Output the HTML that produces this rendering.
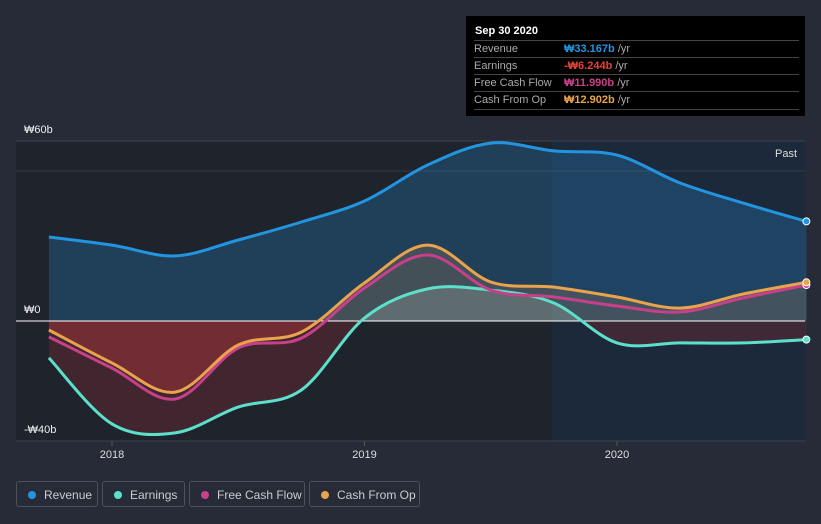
<!DOCTYPE html>
<html><head><meta charset="utf-8"><style>
body{margin:0;background:#262b37;font-family:"Liberation Sans","Noto Sans CJK KR",sans-serif;}
#wrap{position:relative;width:821px;height:524px;overflow:hidden;background:#262b37}
.tip{position:absolute;left:466px;top:16px;width:339px;height:100px;background:#000;color:#fff;font-size:11px}
.tip .h{position:absolute;left:9px;top:9px;font-weight:bold;font-size:11px}
.row{position:absolute;left:8px;width:325px;height:17px;border-top:1px solid #444;color:#aaa;line-height:16px}
.row span.l{position:absolute;left:0}
.row span.v{position:absolute;left:90px;font-weight:bold}
.row span.u{color:#aaa;font-weight:normal}
.leg{position:absolute;top:481px;height:26px;border:1px solid #4a505c;border-radius:3px;color:#ccc;font-size:12px;line-height:26px;box-sizing:border-box}
.leg i{position:absolute;left:11px;top:9px;width:8px;height:8px;border-radius:50%}
.leg span{position:absolute;left:27px}
</style></head><body>
<div id="wrap">
<svg id="svg" width="821" height="524" style="position:absolute;left:0;top:0"></svg>
<div class="tip">
<div class="h">Sep 30 2020</div>
<div class="row" style="top:24px"><span class="l">Revenue</span><span class="v" style="color:#2394e0">₩33.167b <span class="u">/yr</span></span></div>
<div class="row" style="top:41px"><span class="l">Earnings</span><span class="v" style="color:#e8413c">-₩6.244b <span class="u">/yr</span></span></div>
<div class="row" style="top:58px"><span class="l">Free Cash Flow</span><span class="v" style="color:#c8408a">₩11.990b <span class="u">/yr</span></span></div>
<div class="row" style="top:75px;border-bottom:1px solid #444"><span class="l">Cash From Op</span><span class="v" style="color:#e8a34c">₩12.902b <span class="u">/yr</span></span></div>
</div>
<div class="leg" style="left:16px;width:82px"><i style="background:#2394e0"></i><span>Revenue</span></div>
<div class="leg" style="left:102px;width:83px"><i style="background:#5ce0cc"></i><span>Earnings</span></div>
<div class="leg" style="left:189px;width:116px"><i style="background:#c8408a"></i><span>Free Cash Flow</span></div>
<div class="leg" style="left:309px;width:111px"><i style="background:#e8a34c"></i><span>Cash From Op</span></div>
</div>
<script>
const times=[2017.75,2018,2018.25,2018.5,2018.75,2019,2019.25,2019.5,2019.75,2020,2020.25,2020.5,2020.75];
const revenue=[28,25.3,21.7,27,33,40,52,59.3,56.7,55.3,46,39.3,33.2];
const earnings=[-12.3,-34.3,-37.3,-28.7,-23,1,10.7,10.3,6,-7.3,-7.3,-7.3,-6.2];
const fcf=[-5.3,-15.7,-26,-9,-5.7,11,22,10.3,8,5,3,7.7,12];
const cfo=[-3,-14,-23.7,-8,-3.7,12.7,25.3,13,11.3,8,4.3,9,12.9];
const yTicks=[60,0,-40];
const yTickLabels=["₩60b","₩0","-₩40b"];
const xTicks=[2018,2019,2020];
const X=t=>112+(t-2018)*252.5;
const Y=v=>321-v*3;
const NS="http://www.w3.org/2000/svg";
const svg=document.getElementById('svg');
function mk(tag,attrs,parent){const e=document.createElementNS(NS,tag);for(const k in attrs)e.setAttribute(k,attrs[k]);(parent||svg).appendChild(e);return e;}
function path(vals){const p=vals.map((v,i)=>[X(times[i]),Y(v)]);let d=`M${p[0][0]},${p[0][1]}`;
for(let i=0;i<p.length-1;i++){const p0=p[i-1]||p[i],p1=p[i],p2=p[i+1],p3=p[i+2]||p2;
d+=` C${p1[0]+(p2[0]-p0[0])/6},${p1[1]+(p2[1]-p0[1])/6} ${p2[0]-(p3[0]-p1[0])/6},${p2[1]-(p3[1]-p1[1])/6} ${p2[0]},${p2[1]}`;}return d;}
function area(vals){return path(vals)+` L${X(times[times.length-1])},${Y(0)} L${X(times[0])},${Y(0)} Z`;}
const defs=mk('defs',{});
const cpA=mk('clipPath',{id:'above'},defs);mk('rect',{x:0,y:0,width:821,height:Y(0)},cpA);
const cpB=mk('clipPath',{id:'below'},defs);mk('rect',{x:0,y:Y(0),width:821,height:300},cpB);
const bg=mk('rect',{x:16,y:141,width:789,height:300,fill:'#1f232c'});

const past=mk('rect',{x:552,y:141,width:253,height:300,fill:'#1c2a3e',opacity:0.8});

const pl=mk('text',{x:797,y:157,fill:'#ddd','font-size':11,'text-anchor':'end'});pl.textContent='Past';

yTicks.forEach((v,i)=>{const g=mk('line',{x1:16,x2:805,y1:Y(v),y2:Y(v),stroke:v===0?'#fff':'#3c4250','stroke-width':1});

const t=mk('text',{x:24,y:Y(v)-8,fill:'#eee','font-size':11});t.textContent=yTickLabels[i];
});
mk('line',{x1:16,x2:805,y1:171,y2:171,stroke:'#343a46'});
xTicks.forEach(v=>{mk('line',{x1:X(v),x2:X(v),y1:441,y2:446,stroke:'#555'});
const t=mk('text',{x:X(v),y:458,fill:'#ddd','font-size':11,'text-anchor':'middle'});t.textContent=v;
});
mk('path',{d:area(revenue),fill:'#2394e0',opacity:0.25,'clip-path':'url(#above)'});
mk('path',{d:area(cfo),fill:'#b53a3a',opacity:0.6,'clip-path':'url(#below)'});
mk('path',{d:area(earnings),fill:'#6b2a35',opacity:0.45,'clip-path':'url(#below)'});
mk('path',{d:area(cfo),fill:'#e8a34c',opacity:0.18,'clip-path':'url(#above)'});
mk('path',{d:area(earnings),fill:'#a0b0a8',opacity:0.3,'clip-path':'url(#above)'});
mk('line',{x1:16,x2:805,y1:Y(0),y2:Y(0),stroke:'#fff','stroke-width':1});
const series=[['revenue',revenue,'#2394e0'],['earnings',earnings,'#5ce0cc'],['free-cash-flow',fcf,'#c8408a'],['cash-from-op',cfo,'#e8a34c']];
series.forEach(([n,v,c])=>{const p=mk('path',{d:path(v),fill:'none',stroke:c,'stroke-width':3});

const d=mk('circle',{cx:X(times[times.length-1]),cy:Y(v[v.length-1]),r:3.5,fill:c,stroke:'#fff','stroke-width':1});
});
</script>
</body></html>
